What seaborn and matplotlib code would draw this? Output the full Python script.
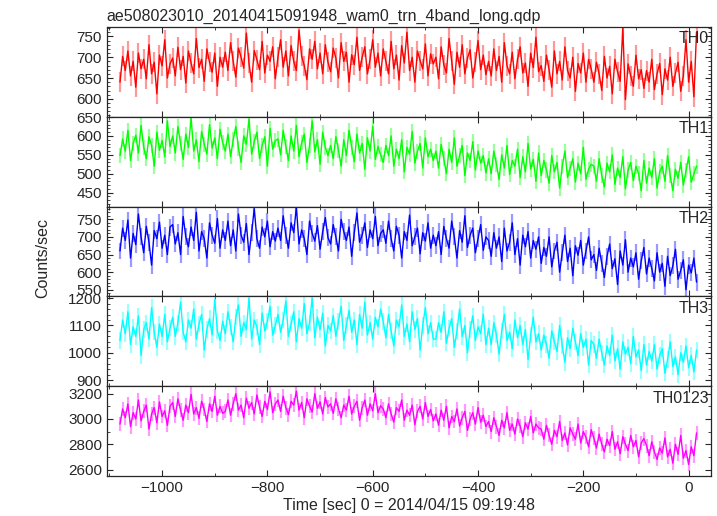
import numpy as np
import pandas as pd
import matplotlib
matplotlib.use('Agg')
import matplotlib.pyplot as plt
import seaborn as sns
from matplotlib.ticker import MultipleLocator

# Data: 5 s bins, count rates
# ----------------------------------------------------
time = np.arange(-1080, 20, 5)

th0 = [640, 702, 668, 715, 655, 690, 628, 710, 672, 695, 648, 730, 660, 688, 612, 705, 679, 742, 650, 684,
       698, 655, 724, 670, 702, 638, 715, 686, 660, 745, 675, 695, 642, 720, 688, 664, 710, 630, 700, 676,
       712, 668, 735, 690, 652, 722, 700, 674, 758, 685, 640, 716, 694, 670, 738, 662, 705, 690, 725, 648,
       700, 742, 676, 715, 655, 728, 690, 668, 765, 702, 680, 646, 720, 695, 738, 672, 710, 660, 730, 688,
       665, 722, 698, 650, 735, 690, 712, 640, 706, 682, 748, 668, 700, 725, 660, 695, 742, 676, 710, 655,
       720, 690, 660, 738, 672, 705, 645, 728, 686, 760, 668, 700, 640, 715, 692, 672, 732, 655, 708, 684,
       700, 648, 725, 682, 662, 745, 690, 635, 712, 676, 730, 660, 698, 718, 650, 688, 740, 670, 705, 658,
       690, 655, 720, 668, 702, 640, 735, 680, 660, 712, 648, 695, 725, 662, 686, 630, 710, 675, 748, 665,
       680, 642, 705, 670, 628, 715, 660, 690, 645, 725, 668, 650, 700, 618, 685, 662, 710, 640, 695, 672,
       640, 688, 660, 620, 702, 650, 678, 612, 695, 665, 642, 770, 598, 684, 655, 630, 705, 648, 670, 625,
       668, 640, 695, 622, 660, 685, 610, 672, 645, 700, 630, 662, 688, 618, 655, 742, 640, 690, 605, 760]

th1 = [548, 592, 560, 615, 535, 580, 602, 555, 628, 570, 540, 598, 575, 520, 610, 562, 588, 545, 640, 572,
       600, 555, 625, 580, 538, 605, 570, 648, 560, 590, 532, 612, 578, 552, 630, 568, 595, 540, 618, 582,
       560, 605, 545, 590, 625, 568, 530, 600, 578, 645, 552, 585, 610, 540, 575, 598, 520, 620, 565, 588,
       592, 550, 615, 572, 535, 600, 560, 628, 545, 582, 605, 530, 575, 640, 558, 590, 525, 610, 570, 548,
       575, 540, 598, 562, 520, 590, 548, 615, 570, 532, 605, 555, 580, 512, 595, 560, 625, 538, 572, 550,
       530, 575, 548, 600, 520, 565, 540, 590, 505, 570, 552, 612, 528, 560, 580, 515, 595, 545, 565, 535,
       560, 515, 578, 540, 500, 565, 530, 595, 520, 548, 575, 495, 555, 535, 585, 510, 560, 528, 548, 502,
       540, 500, 560, 525, 485, 550, 515, 575, 498, 535, 520, 565, 490, 545, 505, 580, 512, 538, 480, 555,
       495, 535, 510, 475, 548, 505, 530, 462, 520, 560, 490, 515, 540, 478, 528, 500, 570, 485, 512, 525,
       520, 480, 540, 495, 465, 528, 505, 550, 472, 515, 490, 545, 460, 510, 530, 482, 520, 500, 455, 535,
       475, 515, 490, 540, 462, 505, 520, 480, 548, 495, 455, 512, 488, 530, 470, 508, 545, 478, 500, 520]

th2 = [660, 725, 690, 748, 640, 710, 678, 765, 700, 655, 730, 685, 620, 718, 695, 742, 668, 705, 650, 728,
       735, 680, 712, 650, 758, 700, 672, 728, 690, 770, 660, 715, 695, 640, 740, 705, 682, 752, 668, 720,
       690, 745, 675, 720, 660, 765, 705, 685, 738, 650, 712, 780, 695, 668, 728, 700, 745, 672, 715, 688,
       725, 690, 760, 705, 668, 740, 712, 785, 680, 720, 695, 650, 745, 710, 688, 732, 665, 715, 755, 698,
       680, 735, 700, 660, 750, 715, 690, 728, 645, 712, 768, 685, 705, 740, 670, 720, 695, 758, 675, 710,
       720, 682, 745, 695, 660, 730, 705, 640, 715, 690, 762, 675, 700, 725, 652, 712, 688, 740, 668, 705,
       675, 715, 650, 730, 695, 668, 745, 700, 640, 718, 685, 760, 670, 705, 725, 655, 695, 735, 662, 700,
       690, 645, 712, 668, 700, 630, 725, 660, 685, 740, 650, 695, 620, 705, 672, 715, 640, 690, 665, 700,
       625, 670, 645, 700, 615, 660, 685, 600, 655, 705, 630, 668, 590, 675, 648, 690, 620, 660, 700, 635,
       650, 605, 668, 625, 585, 645, 680, 610, 638, 565, 660, 620, 692, 600, 640, 615, 655, 580, 632, 670,
       595, 640, 610, 575, 655, 600, 625, 560, 645, 590, 618, 665, 580, 605, 635, 550, 620, 598, 640, 572]

th3 = [1045, 1120, 1070, 1150, 1030, 1095, 1060, 1135, 990, 1085, 1110, 1050, 1165, 1075, 1020, 1105, 1060, 1140, 1040, 1090,
       1130, 1060, 1110, 1185, 1075, 1040, 1120, 1090, 1160, 1050, 1105, 1140, 1010, 1085, 1125, 1065, 1195, 1080, 1045, 1115,
       1070, 1150, 1095, 1040, 1130, 1175, 1060, 1110, 1085, 1200, 1050, 1120, 1095, 1030, 1145, 1080, 1115, 1170, 1065, 1100,
       1140, 1075, 1120, 1190, 1060, 1105, 1150, 1040, 1125, 1090, 1180, 1070, 1110, 1200, 1055, 1130, 1085, 1145, 1025, 1100,
       1080, 1135, 1060, 1115, 1170, 1045, 1100, 1155, 1075, 1120, 1030, 1140, 1090, 1185, 1065, 1110, 1050, 1130, 1095, 1160,
       1115, 1055, 1140, 1080, 1025, 1120, 1095, 1175, 1060, 1105, 1040, 1150, 1085, 1125, 1010, 1100, 1165, 1070, 1110, 1050,
       1050, 1110, 1075, 1150, 1035, 1090, 1125, 1020, 1080, 1160, 1060, 1100, 1000, 1085, 1135, 1045, 1095, 1070, 1140, 1030,
       1090, 1030, 1110, 1065, 995, 1080, 1140, 1045, 1075, 1015, 1120, 1055, 1100, 1030, 1085, 975, 1065, 1130, 1040, 1070,
       1010, 1065, 1030, 980, 1080, 1040, 1005, 1100, 1025, 965, 1055, 1015, 1090, 1040, 990, 1070, 1020, 1050, 955, 1045,
       1030, 980, 1050, 1000, 955, 1025, 990, 1065, 970, 1015, 940, 1040, 995, 1020, 960, 1060, 985, 1010, 935, 1030,
       955, 1005, 970, 1030, 940, 990, 1015, 925, 975, 1040, 950, 985, 920, 1000, 965, 1025, 945, 990, 930, 1010]

th0123 = [2960, 3080, 3010, 3120, 2940, 3050, 3000, 3150, 2985, 3060, 3110, 2920, 3040, 3090, 2970, 3135, 3020, 3065, 2950, 3100,
          3130, 3020, 3160, 3070, 2990, 3110, 3050, 3195, 3040, 3090, 3005, 3140, 3075, 2980, 3120, 3060, 3180, 3030, 3100, 3045,
          3060, 3150, 3030, 3120, 3200, 3070, 3110, 3010, 3165, 3085, 3130, 3040, 3190, 3095, 3020, 3140, 3075, 3215, 3050, 3120,
          3150, 3060, 3180, 3090, 3035, 3140, 3110, 3220, 3070, 3130, 3010, 3160, 3100, 3055, 3200, 3085, 3135, 3040, 3170, 3095,
          3120, 3045, 3160, 3080, 3010, 3110, 3070, 3180, 3040, 3100, 3140, 2990, 3090, 3150, 3030, 3120, 3065, 3200, 3050, 3105,
          3080, 3010, 3120, 3040, 2975, 3090, 3060, 3150, 2990, 3070, 3030, 3110, 2955, 3060, 3100, 3000, 3130, 3020, 3075, 2985,
          3040, 2950, 3070, 2990, 3100, 2930, 3020, 2980, 3080, 2945, 3010, 3060, 2910, 3000, 3050, 2960, 3090, 2975, 3030, 2940,
          2980, 2900, 3010, 2940, 2870, 2990, 2930, 3050, 2910, 2960, 2880, 3000, 2945, 2860, 2970, 2920, 3020, 2890, 2960, 2930,
          2920, 2840, 2950, 2870, 2800, 2910, 2860, 2980, 2830, 2890, 2795, 2930, 2880, 2840, 2960, 2810, 2900, 2855, 2780, 2915,
          2850, 2770, 2880, 2800, 2740, 2840, 2790, 2900, 2760, 2820, 2725, 2860, 2800, 2750, 2870, 2780, 2830, 2700, 2810, 2845,
          2790, 2710, 2820, 2740, 2680, 2770, 2730, 2850, 2700, 2760, 2650, 2800, 2720, 2870, 2690, 2750, 2640, 2780, 2710, 2890]

bands = ['TH0', 'TH1', 'TH2', 'TH3', 'TH0123']
rates = [th0, th1, th2, th3, th0123]
# typical 1-sigma error per band
errors = [24, 20, 24, 30, 55]

colors = ['#ff0000', '#00ff00', '#0000ff', '#00ffff', '#ff00ff']
ylims = [(557, 773), (413, 651), (531, 786), (877, 1206), (2547, 3258)]
major_steps = [50, 50, 50, 100, 200]
minor_steps = [10, 10, 10, 20, 100]

sns.set_style('ticks')
plt.rcParams['font.family'] = ['Liberation Sans', 'DejaVu Sans']

fig, axes = plt.subplots(5, 1, sharex=True, figsize=(7.17, 5.16), dpi=100)
fig.subplots_adjust(left=0.149, right=0.992, top=0.948, bottom=0.077, hspace=0)

for ax, band, vals, err, col, ylim, maj, mnr in zip(axes, bands, rates, errors, colors,
                                                    ylims, major_steps, minor_steps):
    df = pd.DataFrame({'time': time, 'rate': vals})
    # light error bars behind the darker connecting line
    ax.errorbar(df['time'], df['rate'], yerr=err, fmt='none', ecolor=col,
                alpha=0.4, elinewidth=1.6)
    sns.lineplot(data=df, x='time', y='rate', ax=ax, color=col, lw=1.0, legend=False)
    ax.set_ylim(*ylim)
    ax.set_xlim(-1105, 43)
    ax.yaxis.set_major_locator(MultipleLocator(maj))
    ax.yaxis.set_minor_locator(MultipleLocator(mnr))
    ax.xaxis.set_major_locator(MultipleLocator(200))
    ax.xaxis.set_minor_locator(MultipleLocator(100))
    ax.tick_params(which='both', direction='in', top=True, right=True, labelsize=11)
    ax.tick_params(which='major', length=4.5)
    ax.tick_params(which='minor', length=2.2)
    ax.set_xlabel('')
    ax.set_ylabel('')
    for s in ax.spines.values():
        s.set_linewidth(0.9)
    ax.text(0.996, 0.95, band, transform=ax.transAxes, ha='right', va='top', fontsize=11.5)

axes[0].set_title('ae508023010_20140415091948_wam0_trn_4band_long.qdp', loc='left',
                  fontsize=11.5, pad=4)
axes[-1].set_xlabel('Time [sec] 0 = 2014/04/15 09:19:48', fontsize=11.5, labelpad=2)
fig.text(0.06, 0.5, 'Counts/sec', rotation=90, va='center', ha='center', fontsize=11.5)

plt.savefig('out.png', dpi=100)
